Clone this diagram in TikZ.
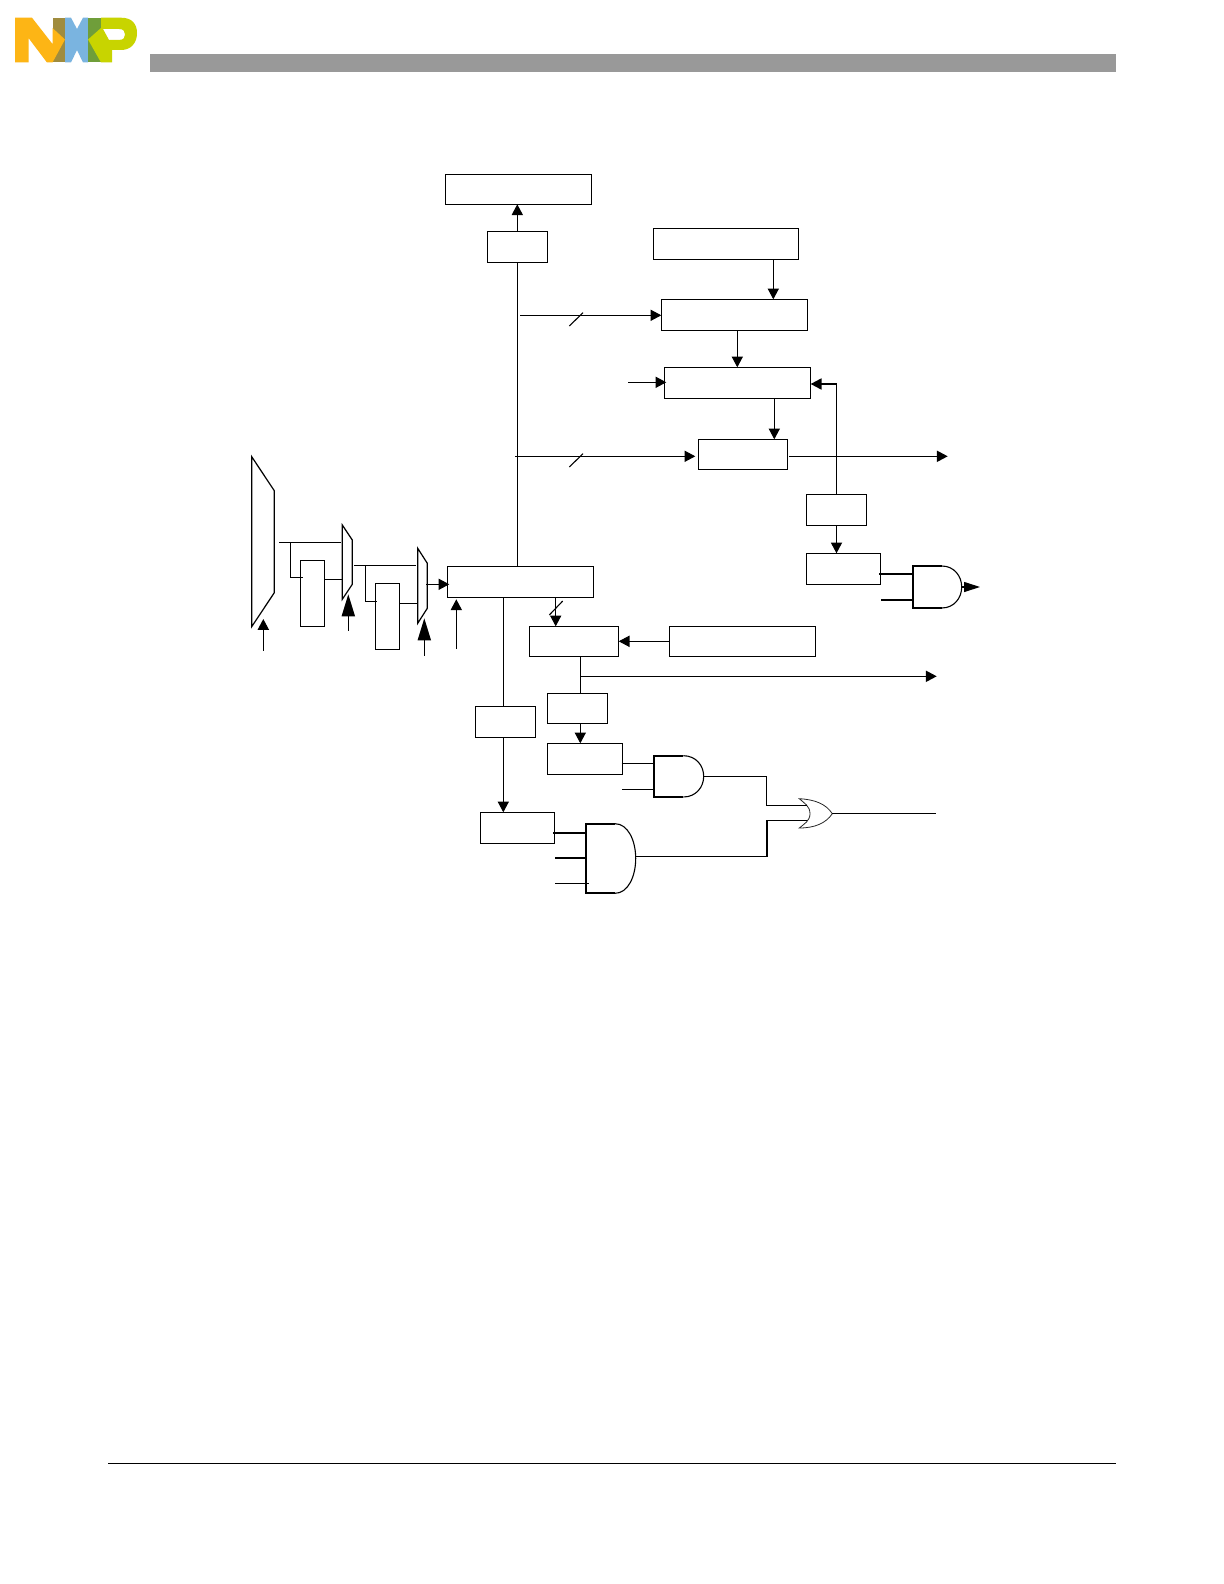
\documentclass[tikz,border=0pt]{standalone}
\usetikzlibrary{arrows.meta}
\definecolor{nxpyellow}{HTML}{FDB515}
\definecolor{nxpolive}{HTML}{A08C3E}
\definecolor{nxpblue}{HTML}{7AB4E0}
\definecolor{nxpgreen}{HTML}{6F9E3A}
\definecolor{nxplime}{HTML}{C8D400}
\definecolor{headbar}{HTML}{999999}
\tikzset{
  wire/.style={line width=0.55pt,draw=black},
  thickwire/.style={line width=0.95pt,draw=black},
  arr/.style={wire,-{Triangle[length=5.4pt,width=5.6pt]}},
  bigarr/.style={wire,-{Triangle[length=11pt,width=6.6pt]}},
  boxst/.style={draw=black,line width=0.55pt,fill=white,inner sep=0pt,outer sep=0pt,shape=rectangle},
  gatefine/.style={line width=0.55pt,draw=black},
  muxst/.style={line width=0.6pt,draw=black,fill=white,line join=miter},
}
% name, x0, y0, x1, y1 (reference pixels)
\newcommand{\pxbox}[5]{\node[boxst,minimum width={(#4-#2)*0.5pt},minimum height={(#5-#3)*0.5pt}] (#1) at ({(#2+#4)/2},{(#3+#5)/2}) {};}
% AND gate outline: x left, y top, x flat end, x right, y bottom
\newcommand{\andgate}[5]{%
  \draw[thickwire] (#3,#2) -- (#1,#2) -- (#1,#5) -- (#3,#5);
  \draw[gatefine] (#3,#2) .. controls ({#3+0.62*(#4-#3)},#2) and (#4,{#2+0.24*(#5-#2)}) .. (#4,{(#2+#5)/2})
    .. controls (#4,{#2+0.76*(#5-#2)}) and ({#3+0.62*(#4-#3)},#5) .. (#3,#5);}
\begin{document}
\begin{tikzpicture}[x=0.5pt,y=-0.5pt]
\useasboundingbox (0,0) rectangle (1224,1584);
\fill[white] (0,0) rectangle (1224,1584);

% logo
\fill[nxpblue] (65,17.7) -- (71,17.7) -- (77,29) -- (83,17.7) -- (88,17.7) -- (88,62.5) -- (83,62.5) -- (77,50) -- (71,62.5) -- (65,62.5) -- cycle;
\fill[nxpolive] (52.5,17.7) -- (65,17.7) -- (65,62.5) -- (52.5,62.5) -- cycle;
\fill[nxpgreen] (88,17.7) -- (101,17.7) -- (101,62.5) -- (88,62.5) -- cycle;
\fill[nxpyellow] (15,17.7) -- (32,17.7) -- (52.5,44) -- (52.5,28) -- (65,39.5) -- (52.5,62.5) -- (47,62.5) -- (28.5,38) -- (28.5,62.5) -- (15,62.5) -- cycle;
\fill[nxplime,even odd rule] (101,17.7) -- (121,17.7) .. controls (132,17.7) and (137,24) .. (137,33) .. controls (137,43) and (131,50) .. (121,50) -- (112,50) -- (112,62.5) -- (101,62.5) -- (88,39.5) -- (101,28) -- cycle
  (103,29) -- (119,29) .. controls (124,29) and (125,32) .. (125,34.5) .. controls (125,37) and (124,40) .. (119,40) -- (109,40) -- cycle;

% header and footer
\fill[headbar] (150,54) rectangle (1116,72);
\draw[line width=0.6pt] (108,1463.5) -- (1116,1463.5);

% boxes
\pxbox{A}{445.3}{174.3}{591.7}{204.3}
\pxbox{B}{487.3}{231.3}{547.7}{262.3}
\pxbox{C}{653.3}{228.3}{798.7}{259.3}
\pxbox{D}{661.3}{299.3}{807.7}{330.7}
\pxbox{E}{664.3}{367.3}{810.7}{398.3}
\pxbox{F}{698.3}{439.3}{787.7}{469.3}
\pxbox{G}{447.3}{566.3}{593.3}{597.3}
\pxbox{H}{806.3}{494.3}{866.7}{525.3}
\pxbox{I}{806.3}{553.3}{880.7}{584.3}
\pxbox{J}{669.3}{626.3}{815.7}{656.3}
\pxbox{K}{529.3}{626.3}{618.7}{656.3}
\pxbox{L}{300.3}{560.3}{324.3}{626.3}
\pxbox{M}{375.3}{583.3}{399.3}{649.3}
\pxbox{N}{475.3}{706.3}{535.7}{737.3}
\pxbox{O}{547.3}{693.3}{607.7}{723.3}
\pxbox{P}{547.3}{743.3}{622.7}{774.3}
\pxbox{Q}{480.3}{812.3}{554.7}{843.3}

% muxes
\draw[muxst] (251.7,456.7) -- (274.3,490.7) -- (274.3,592.7) -- (251.7,626.7) -- cycle;
\draw[muxst] (342.3,525) -- (352.3,540) -- (352.3,584.3) -- (342.3,599.3) -- cycle;
\draw[muxst] (417.7,548.3) -- (427.3,563.3) -- (427.3,608.3) -- (417.7,623.3) -- cycle;
\coordinate (muxa) at (263.3,619);
\coordinate (muxaIn) at (263.3,650.7);
\coordinate (muxb) at (348.3,594.3);
\coordinate (muxbIn) at (348.3,630.7);
\coordinate (muxc) at (424.3,618.3);
\coordinate (muxcIn) at (424.3,655.7);
\coordinate (muxaOut) at (279,542.3);
\coordinate (muxbTop) at (340.7,542.3);
\coordinate (muxaTurn) at (290.3,542.3);
\coordinate (muxaBr) at (302.7,577.3);
\coordinate (muxbLeft) at (342.3,579.3);
\coordinate (muxbOut) at (354,565.3);
\coordinate (muxcTop) at (415.7,565.3);
\coordinate (muxbTurn) at (365.3,565.3);
\coordinate (muxbBr) at (376.7,601.3);
\coordinate (muxcLeft) at (417.7,603.3);
\coordinate (muxcOut) at (426,584.3);

% mux wiring
\draw[arr] (muxaIn) -- (muxa);
\draw[bigarr] (muxbIn) -- (muxb);
\draw[bigarr] (muxcIn) -- (muxc);
\draw[wire] (muxaOut) -- (muxbTop);
\draw[wire] (muxaTurn) |- (muxaBr);
\draw[wire] (L.east |- muxbLeft) -- (muxbLeft);
\draw[wire] (muxbOut) -- (muxcTop);
\draw[wire] (muxbTurn) |- (muxbBr);
\draw[wire] (M.east |- muxcLeft) -- (muxcLeft);
\draw[arr] (muxcOut) -- (G.west |- muxcOut) -- ++(2,0);

% x and y positions of connectors
\coordinate (trunk) at (517.3,0);
\coordinate (cd) at (773.3,0);
\coordinate (de) at (737.3,0);
\coordinate (ef) at (774.3,0);
\coordinate (bus1a) at (520,315.3);
\coordinate (bus2a) at (515,456.3);
\coordinate (eIn) at (628,382.3);
\coordinate (gUp) at (456.3,649);
\coordinate (gUpTip) at (456.3,599.3);
\coordinate (gk) at (555.7,0);
\coordinate (gn) at (503.3,0);
\coordinate (kx) at (580.3,0);
\coordinate (hx) at (836.5,0);
\coordinate (hTop) at (836.5,384);
\coordinate (fOut) at (789,456.3);
\coordinate (fEnd) at (947.7,456.3);
\coordinate (kOut) at (580.3,676.3);
\coordinate (kEnd) at (936.7,676.3);

% main connectors
\draw[arr] (trunk |- B.north) -- (trunk |- A.south);
\draw[wire] (trunk |- B.south) -- (trunk |- G.north);
\draw[arr] (cd |- C.south) -- (cd |- D.north);
\draw[arr] (de |- D.south) -- (de |- E.north);
\draw[arr] (ef |- E.south) -- (ef |- F.north);
\draw[arr] (bus1a) -- (D.west |- bus1a);
\draw[wire] (569.3,326) -- (583,312.7);
\draw[arr] (bus2a) -- ([xshift=-1.5pt]F.west |- bus2a);
\draw[wire] (569.3,467) -- (583,453.7);
\draw[arr] (eIn) -- ([xshift=1pt]E.west |- eIn);
\draw[wire] (hx |- H.north) -- (hTop);
\draw[arr] (hTop) -- (E.east |- hTop);
\draw[arr] (fOut) -- (fEnd);
\draw[arr] (hx |- H.south) -- (hx |- I.north);
\draw[arr] (gUp) -- (gUpTip);
\draw[arr] (gk |- G.south) -- (gk |- K.north);
\draw[wire] (549.3,615) -- (562.7,601);
\draw[arr] (J.west |- K.east) -- (K.east);
\draw[wire] (kx |- K.south) -- (kx |- O.north);
\draw[arr] (kOut) -- (kEnd);
\draw[arr] (kx |- O.south) -- (kx |- P.north);
\draw[wire] (gn |- G.south) -- (gn |- N.north);
\draw[arr] (gn |- N.south) -- (gn |- Q.north);

% gate 1
\andgate{912.7}{566}{941.7}{961.7}{608}
\coordinate (g1a) at (912.7,573.7);
\coordinate (g1as) at (879.3,573.7);
\coordinate (g1b) at (912.7,599.7);
\coordinate (g1bs) at (881.3,599.7);
\coordinate (g1o) at (961.7,587);
\coordinate (g1e) at (980,587);
\draw[thickwire] (g1as) -- (g1a);
\draw[thickwire] (g1bs) -- (g1b);
\draw[wire,-{Triangle[length=8pt,width=5pt]}] (g1o) -- (g1e);

% gate 2
\andgate{654.3}{755.7}{683.3}{703.7}{797}
\coordinate (g2a) at (654.3,763.3);
\coordinate (g2as) at (621.7,763.3);
\coordinate (g2b) at (654.3,789.3);
\coordinate (g2bs) at (622,789.3);
\coordinate (g2o) at (703.7,776.3);
\draw[wire] (g2as) -- (g2a);
\draw[wire] (g2bs) -- (g2b);

% gate 3
\andgate{586.3}{823.7}{615}{635.7}{893.3}
\coordinate (g3a) at (586.3,833);
\coordinate (g3as) at (553.3,833);
\coordinate (g3b) at (586.3,858);
\coordinate (g3bs) at (555,858);
\coordinate (g3c) at (588.7,883.3);
\coordinate (g3cs) at (555,883.3);
\coordinate (g3o) at (635.7,856.3);
\draw[thickwire] (g3as) -- (g3a);
\draw[thickwire] (g3bs) -- (g3b);
\draw[wire] (g3cs) -- (g3c);

% OR gate
\draw[line width=0.4pt,draw=black!85] (799.3,798.7) .. controls (804,803) and (810,806) .. (810,813.7)
   .. controls (810,821) and (804,824) .. (799.3,828)
   .. controls (815,828) and (826,823) .. (832.3,813.7)
   .. controls (826,804) and (815,799.5) .. (799.3,798.7) -- cycle;
\coordinate (orA) at (806.7,805.3);
\coordinate (orB) at (806.7,820.3);
\coordinate (orO) at (832.3,813.7);
\coordinate (orEnd) at (936,813.7);
\coordinate (v1) at (766.3,0);
\coordinate (v2) at (767,0);
\draw[wire] (g2o) -| (v1 |- orA) -- (orA);
\draw[wire] (g3o) -| (v2 |- orB) -- (orB);
\draw[wire] (orO) -- (orEnd);
\end{tikzpicture}
\end{document}
